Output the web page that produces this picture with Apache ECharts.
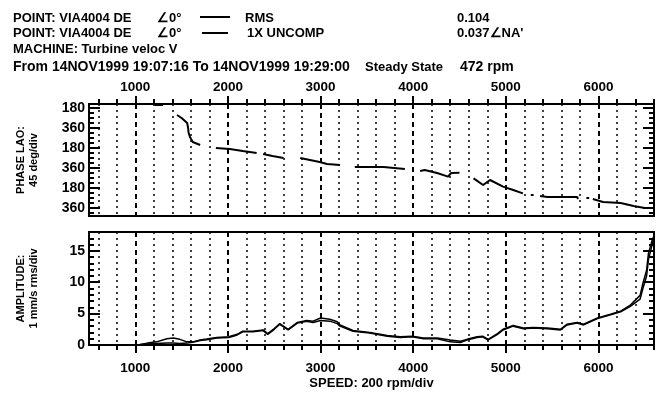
<!DOCTYPE html>
<html>
<head>
<meta charset="utf-8">
<script src="https://cdn.jsdelivr.net/npm/echarts@6/dist/echarts.min.js"></script>
<style>
html, body { margin: 0; padding: 0; background: #fff; }
#chart { width: 660px; height: 398px; }
</style>
</head>
<body>
<div id="chart"></div>
<script>
// speed axis (rpm)
var speedLabels = [1000, 2000, 3000, 4000, 5000, 6000];
// phase axis: wrapped phase shown as 180 / 360 alternating, cumulative degrees underneath
var phaseLabelValues = [180, 360, 540, 720, 900, 1080];
var phaseLabelText = ["180", "360", "180", "360", "180", "360"];
var ampLabels = [0, 5, 10, 15];

// 1X phase lag vs speed (null = gap in the trace)
var phaseRpm = [1210, 1300, 1300, 1450, 1500, 1560, 1570, 1575, 1590, 1620, 1700, 1700,
    1870, 2020, 2160, 2310, 2310, 2380, 2480, 2600, 2600,
    2780, 2990, 3070, 3210, 3210, 3370, 3680, 3910, 3910,
    4075, 4125, 4258, 4377, 4410, 4500, 4500,
    4652, 4755, 4830, 4970, 5080, 5185, 5185, 5270, 5300, 5300,
    5370, 5450, 5770, 5780, 5780, 5870, 5900, 5900,
    5940, 6050, 6240, 6380, 6500, 6600];
var phaseDeg = [153, 153, null, 243, 270, 315, 360, 400, 441, 486, 513, null,
    540, 549, 567, 585, null, 594, 612, 630, null,
    630, 666, 684, 693, null, 711, 711, 729, null,
    747, 738, 765, 798, 765, 762, null,
    813, 873, 828, 888, 918, 948, null, 963, 963, null,
    972, 981, 981, 999, null, 990, 990, null,
    999, 1026, 1035, 1062, 1080, 1080];

// amplitude vs speed, mm/s rms
var ampRpm = [1000, 1050, 1130, 1230, 1340, 1410, 1480, 1560, 1620, 1700, 1770, 1880, 2010, 2100,
    2160, 2270, 2380, 2430, 2500, 2560, 2650, 2750, 2850, 2920, 3000, 3100, 3180, 3210,
    3350, 3530, 3720, 3860, 3990, 4110, 4260, 4400, 4510, 4580, 4690, 4750, 4810, 4910,
    4970, 5080, 5190, 5300, 5450, 5590, 5660, 5770, 5840, 5990, 6130, 6240, 6340, 6450,
    6480, 6520, 6540, 6580, 6600];
var ampRms = [0.0, 0.1, 0.3, 0.5, 1.0, 1.1, 0.9, 0.5, 0.5, 0.8, 0.95, 1.2, 1.3, 1.7,
    2.2, 2.2, 2.4, 1.8, 2.6, 3.4, 2.5, 3.6, 3.9, 3.8, 4.3, 4.1, 3.7, 3.2,
    2.3, 2.0, 1.5, 1.3, 1.4, 1.1, 1.1, 0.8, 0.6, 0.9, 1.3, 1.4, 0.9, 1.8,
    2.5, 3.1, 2.7, 2.8, 2.7, 2.5, 3.3, 3.6, 3.3, 4.3, 4.9, 5.4, 6.3, 7.9,
    9.8, 11.9, 14.6, 16.7, 17.4];
var amp1x = [0.0, 0.05, 0.15, 0.25, 0.3, 0.3, 0.25, 0.3, 0.45, 0.7, 0.85, 1.1, 1.2, 1.6,
    2.1, 2.1, 2.3, 1.7, 2.5, 3.3, 2.4, 3.5, 3.8, 3.6, 3.9, 3.8, 3.4, 3.0,
    2.2, 1.9, 1.4, 1.2, 1.3, 1.0, 1.0, 0.5, 0.4, 0.8, 1.2, 1.3, 0.8, 1.7,
    2.4, 3.0, 2.6, 2.7, 2.6, 2.4, 3.2, 3.5, 3.2, 4.2, 4.8, 5.3, 6.1, 7.3,
    9.0, 11.0, 13.6, 16.0, 17.2];

var speedMinor = [];
for (var s = 600; s <= 6600; s += 200) {
    if (s % 1000 !== 0) speedMinor.push(s);
}
var phaseMinor = [];
for (var d = 180; d <= 1125; d += 45) {
    if (d % 180 !== 0) phaseMinor.push(d);
}
var ampMinor = [];
for (var a = 1; a <= 17; a++) {
    if (a % 5 !== 0) ampMinor.push(a);
}

var FONT = "'Liberation Sans', Arial, sans-serif";
var black = "#000";

function speed_axis(grid, pos, ticks, tickLen, showLabels, splitType, extra) {
    var axis = {
        type: "value", gridIndex: grid, position: pos, min: 500, max: 6600,
        axisLine: {show: true, onZero: false, lineStyle: {color: black, width: 2}},
        axisTick: {show: true, inside: false, length: tickLen, customValues: ticks,
            lineStyle: {color: black, width: 2}},
        axisLabel: {show: showLabels, customValues: speedLabels, color: black,
            fontFamily: FONT, fontWeight: "bold", fontSize: 13.5, margin: pos === "top" ? 10 : 16,
            formatter: function (v) { return String(v); }},
        splitLine: {show: true, lineStyle: {color: black, width: splitType === "dashed" ? 2 : 1.5,
            type: splitType === "dashed" ? [5, 4] : [2, 4]}}
    };
    for (var k in extra) axis[k] = extra[k];
    return axis;
}

function side_axis(grid, pos, min, max, inverse, ticks, tickLen, labels, extra) {
    var axis = {
        type: "value", gridIndex: grid, position: pos, min: min, max: max, inverse: inverse,
        axisLine: {show: true, onZero: false, lineStyle: {color: black, width: 2}},
        axisTick: {show: true, inside: true, length: tickLen, customValues: ticks,
            lineStyle: {color: black, width: 2}},
        axisLabel: {show: !!labels, color: black, fontFamily: FONT, fontWeight: "bold",
            fontSize: 14, margin: 4},
        splitLine: {show: false}
    };
    if (labels) axis.axisLabel.customValues = labels.values;
    if (labels && labels.formatter) axis.axisLabel.formatter = labels.formatter;
    for (var k in extra) axis[k] = extra[k];
    return axis;
}

var yNameStyle = {color: black, fontFamily: FONT, fontWeight: "bold", fontSize: 11, lineHeight: 13};

var phaseData = phaseRpm.map(function (r, i) {
    return [r, phaseDeg[i] === null ? "-" : phaseDeg[i]];
});
var rmsData = ampRpm.map(function (r, i) { return [r, ampRms[i]]; });
var oneXData = ampRpm.map(function (r, i) { return [r, amp1x[i]]; });

function header_text(x, y, text, size) {
    return {type: "text", x: x, y: y, style: {text: text, fill: black,
        font: "bold " + (size || 13) + "px " + FONT, textVerticalAlign: "middle", verticalAlign: "middle"}};
}

var option = {
    backgroundColor: "#fff",
    animation: false,
    grid: [
        {left: 89, top: 104, width: 565, height: 112, show: true, borderColor: black,
            borderWidth: 2, outerBoundsMode: "none", containLabel: false},
        {left: 89, top: 232, width: 565, height: 113, show: true, borderColor: black,
            borderWidth: 2, outerBoundsMode: "none", containLabel: false}
    ],
    xAxis: [
        speed_axis(0, "top", speedMinor, 5, false, "dotted"),
        speed_axis(0, "top", speedLabels, 8, true, "dashed"),
        speed_axis(1, "bottom", speedMinor, 5, false, "dotted"),
        speed_axis(1, "bottom", speedLabels, 8, true, "dashed", {
            name: "SPEED: 200 rpm/div", nameLocation: "middle", nameGap: 32,
            nameTextStyle: {color: black, fontFamily: FONT, fontWeight: "bold", fontSize: 13}
        })
    ],
    yAxis: [
        side_axis(0, "left", 144, 1152, true, phaseMinor, 5, null),
        side_axis(0, "left", 144, 1152, true, phaseLabelValues, 11, {
            values: phaseLabelValues,
            formatter: function (v) { return phaseLabelText[phaseLabelValues.indexOf(v)]; }
        }, {name: "PHASE LAO:\n45 deg/div", nameLocation: "middle", nameRotate: 90,
            nameGap: 49, nameTextStyle: yNameStyle}),
        side_axis(0, "right", 144, 1152, true, phaseMinor, 5, null),
        side_axis(0, "right", 144, 1152, true, phaseLabelValues, 11, null),
        side_axis(1, "left", 0, 18, false, ampMinor, 5, null),
        side_axis(1, "left", 0, 18, false, ampLabels, 11, {values: ampLabels},
            {name: "AMPLITUDE:\n1 mm/s rms/div", nameLocation: "middle", nameRotate: 90,
                nameGap: 49, nameTextStyle: yNameStyle}),
        side_axis(1, "right", 0, 18, false, ampMinor, 5, null),
        side_axis(1, "right", 0, 18, false, ampLabels, 11, null)
    ],
    graphic: [
        header_text(13, 18, "POINT: VIA4004 DE"),
        header_text(157, 18, "\u22200\u00b0"),
        {type: "line", shape: {x1: 200, y1: 17, x2: 230, y2: 17}, style: {stroke: black, lineWidth: 2}},
        header_text(245, 18, "RMS"),
        header_text(457, 18, "0.104"),
        header_text(13, 33, "POINT: VIA4004 DE"),
        header_text(157, 33, "\u22200\u00b0"),
        {type: "line", shape: {x1: 202, y1: 33, x2: 228, y2: 33}, style: {stroke: black, lineWidth: 2}},
        header_text(247, 33, "1X UNCOMP"),
        header_text(457, 33, "0.037\u2220NA'"),
        header_text(13, 49, "MACHINE: Turbine veloc V"),
        header_text(13, 67, "From 14NOV1999 19:07:16 To 14NOV1999 19:29:00", 14),
        header_text(365, 67, "Steady State"),
        header_text(460, 67, "472 rpm", 14)
    ],
    series: [
        {
            name: "1X phase", type: "line", xAxisIndex: 1, yAxisIndex: 1,
            data: phaseData, showSymbol: false, connectNulls: false,
            lineStyle: {color: black, width: 2}
        },
        {
            name: "RMS", type: "line", xAxisIndex: 3, yAxisIndex: 5,
            data: rmsData, showSymbol: false, lineStyle: {color: black, width: 1.5}
        },
        {
            name: "1X UNCOMP", type: "line", xAxisIndex: 3, yAxisIndex: 5,
            data: oneXData, showSymbol: false, lineStyle: {color: black, width: 1.5}
        }
    ]
};

var chart = echarts.init(document.getElementById("chart"), null, {renderer: "canvas"});
chart.setOption(option);
</script>
</body>
</html>
